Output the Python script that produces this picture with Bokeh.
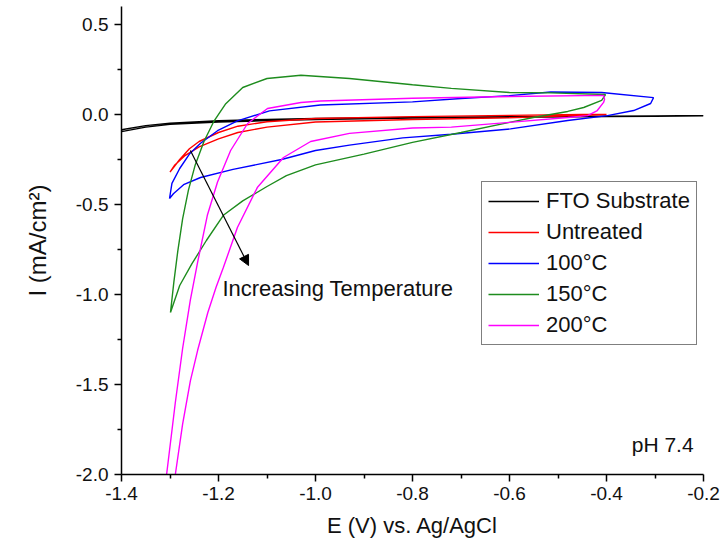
from bokeh.plotting import figure
from bokeh.models import FixedTicker, PrintfTickFormatter, Label, Arrow, NormalHead
from bokeh.embed import file_html
from bokeh.resources import INLINE

# ---- data ----
fto_E = [-0.2, -0.4, -0.6, -0.8, -1.0, -1.1, -1.2, -1.3, -1.35, -1.4,
         -1.4, -1.35, -1.3, -1.2, -1.1, -1.0, -0.8, -0.6, -0.4, -0.2]
fto_I = [-0.006, -0.009, -0.012, -0.016, -0.022, -0.027, -0.034, -0.048, -0.062, -0.085,
         -0.095, -0.07, -0.055, -0.042, -0.034, -0.028, -0.02, -0.015, -0.011, -0.008]

untreated_E = [-1.30, -1.28, -1.26, -1.24, -1.20, -1.16, -1.10, -1.0, -0.8, -0.6, -0.45, -0.40,
               -0.45, -0.6, -0.8, -1.0, -1.1, -1.16, -1.2, -1.24, -1.27, -1.29, -1.30]
untreated_I = [-0.32, -0.25, -0.19, -0.15, -0.10, -0.065, -0.04, -0.022, -0.012, -0.005, 0.0, 0.0,
               -0.005, -0.018, -0.028, -0.042, -0.07, -0.10, -0.135, -0.18, -0.23, -0.28, -0.32]

t100_E = [-1.301, -1.296, -1.28, -1.26, -1.237, -1.202, -1.161, -1.095, -0.99, -0.8, -0.7, -0.6,
          -0.515, -0.41, -0.303, -0.309, -0.344, -0.398, -0.48, -0.598, -0.72, -0.82, -0.93,
          -1.0, -1.07, -1.17, -1.237, -1.272, -1.293, -1.301]
t100_I = [-0.467, -0.383, -0.30, -0.22, -0.16, -0.09, -0.035, 0.02, 0.053, 0.07, 0.089, 0.105,
          0.125, 0.122, 0.094, 0.061, 0.022, -0.006, -0.033, -0.08, -0.11, -0.13, -0.17,
          -0.20, -0.25, -0.305, -0.35, -0.39, -0.44, -0.467]

t150_E = [-1.299, -1.292, -1.284, -1.274, -1.262, -1.248, -1.23, -1.21, -1.185, -1.15, -1.1,
          -1.03, -0.93, -0.8, -0.72, -0.6, -0.515, -0.402, -0.41, -0.447, -0.48, -0.551, -0.6,
          -0.7, -0.8, -0.9, -1.0, -1.06, -1.1, -1.15, -1.19, -1.225, -1.255, -1.28, -1.299]
t150_I = [-1.10, -0.93, -0.76, -0.58, -0.42, -0.28, -0.15, -0.04, 0.06, 0.15, 0.20,
          0.218, 0.20, 0.165, 0.145, 0.122, 0.12, 0.111, 0.078, 0.039, 0.017, -0.017, -0.044,
          -0.10, -0.155, -0.22, -0.28, -0.34, -0.40, -0.48, -0.56, -0.70, -0.83, -0.95, -1.10]

t200_E = [-1.311, -1.307, -1.289, -1.274, -1.258, -1.243, -1.223, -1.202, -1.175, -1.14, -1.099,
          -1.03, -0.99, -0.8, -0.6, -0.406, -0.404, -0.406, -0.419, -0.439, -0.48, -0.6, -0.72,
          -0.8, -0.93, -1.01, -1.066, -1.12, -1.161, -1.19, -1.205, -1.222, -1.243, -1.258,
          -1.274, -1.289, -1.293]
t200_I = [-2.1, -2.0, -1.6, -1.3, -1.03, -0.82, -0.56, -0.375, -0.2, -0.05, 0.033,
          0.067, 0.075, 0.09, 0.10, 0.106, 0.085, 0.067, 0.022, -0.006, -0.017, -0.044, -0.07,
          -0.075, -0.105, -0.15, -0.239, -0.406, -0.628, -0.85, -0.96, -1.10, -1.31, -1.48,
          -1.72, -2.0, -2.1]

series_labels = ["FTO Substrate", "Untreated", "100°C", "150°C", "200°C"]
series_colors = ["#000000", "#ff0000", "#0000ff", "#1e8c1e", "#ff00ff"]
series_E = [fto_E, untreated_E, t100_E, t150_E, t200_E]
series_I = [fto_I, untreated_I, t100_I, t150_I, t200_I]

x_major = [-1.4, -1.2, -1.0, -0.8, -0.6, -0.4, -0.2]
x_minor = [-1.3, -1.1, -0.9, -0.7, -0.5, -0.3]
y_major = [-2.0, -1.5, -1.0, -0.5, 0.0, 0.5]
y_minor = [-1.75, -1.25, -0.75, -0.25, 0.25]

# annotation anchors (data units)
arrow_start = (-1.258, -0.20)
arrow_end = (-1.138, -0.839)
note_pos = (-1.192, -0.967)
ph_pos = (-0.348, -1.835)

FONT = "Liberation Sans"
TXT = "#111111"

p = figure(frame_width=582, frame_height=468,
           x_range=(-1.4, -0.2), y_range=(-2.0, 0.6),
           min_border_left=121, min_border_top=6, min_border_right=20, min_border_bottom=72,
           output_backend="svg", toolbar_location=None)

p.grid.visible = False
p.outline_line_color = None
p.background_fill_color = "white"
p.border_fill_color = "white"

for lab, col, ex, iy in zip(series_labels, series_colors, series_E, series_I):
    p.line(ex, iy, line_color=col, line_width=1.4, legend_label=lab)

p.xaxis.ticker = FixedTicker(ticks=x_major, minor_ticks=x_minor)
p.yaxis.ticker = FixedTicker(ticks=y_major, minor_ticks=y_minor)
p.xaxis.formatter = PrintfTickFormatter(format="%.1f")
p.yaxis.formatter = PrintfTickFormatter(format="%.1f")

for ax in (p.xaxis, p.yaxis):
    ax.axis_line_width = 1.5
    ax.axis_line_color = "black"
    ax.major_tick_line_width = 1.5
    ax.minor_tick_line_width = 1.5
    ax.major_tick_line_color = "black"
    ax.minor_tick_line_color = "black"
    ax.major_tick_in = 0
    ax.major_tick_out = 7
    ax.minor_tick_in = 0
    ax.minor_tick_out = 4
    ax.major_label_text_font = FONT
    ax.major_label_text_font_size = "19px"
    ax.major_label_text_color = TXT
    ax.axis_label_text_font = FONT
    ax.axis_label_text_font_style = "normal"
    ax.axis_label_text_color = TXT

p.xaxis.axis_label = "E (V) vs. Ag/AgCl"
p.xaxis.axis_label_text_font_size = "22px"
p.xaxis.major_label_standoff = 5
p.xaxis.axis_label_standoff = 10
p.yaxis.axis_label = "I (mA/cm²)"
p.yaxis.axis_label_text_font_size = "24px"
p.yaxis.major_label_standoff = 6
p.yaxis.axis_label_standoff = 22

p.add_layout(Arrow(end=NormalHead(size=10, fill_color="black", line_color="black", line_width=1),
                   x_start=arrow_start[0], y_start=arrow_start[1],
                   x_end=arrow_end[0], y_end=arrow_end[1],
                   line_color="black", line_width=1.2))
p.add_layout(Label(x=note_pos[0], y=note_pos[1], text="Increasing Temperature",
                   text_font=FONT, text_font_size="22px", text_color=TXT,
                   text_baseline="middle"))
p.add_layout(Label(x=ph_pos[0], y=ph_pos[1], text="pH 7.4",
                   text_font=FONT, text_font_size="21px", text_color=TXT,
                   text_baseline="middle"))

lg = p.legend[0]
lg.location = (360, 129)
lg.margin = 0
lg.padding = 6
lg.spacing = 5
lg.glyph_width = 51
lg.glyph_height = 20
lg.label_height = 20
lg.label_standoff = 7
lg.label_text_font = FONT
lg.label_text_font_size = "22px"
lg.label_text_color = TXT
lg.border_line_color = "black"
lg.border_line_width = 1.5
lg.background_fill_color = "white"
lg.background_fill_alpha = 1.0

open("out.html", "w").write(file_html(p, INLINE))
